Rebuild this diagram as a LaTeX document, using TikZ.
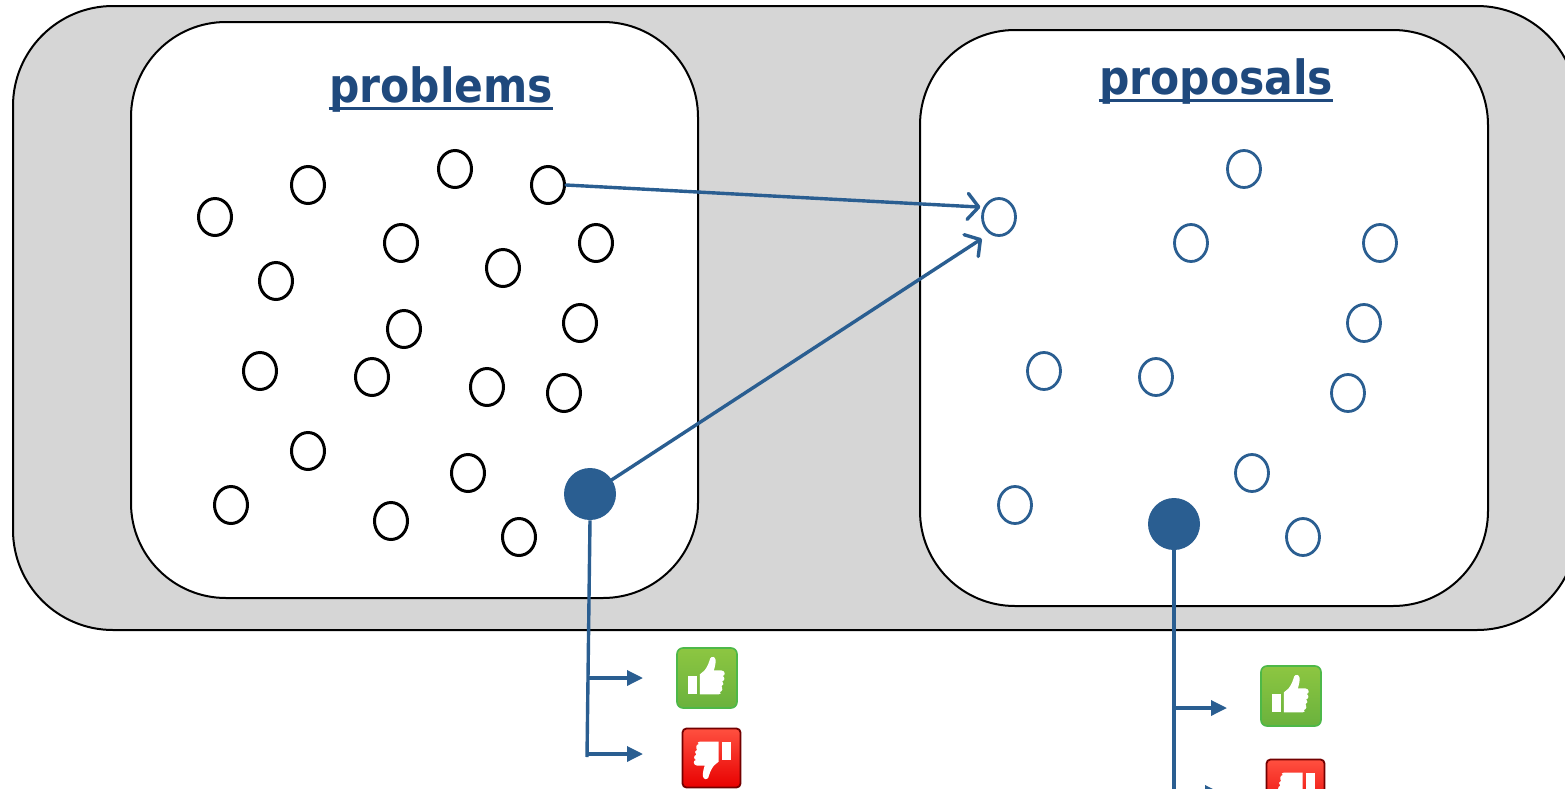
\documentclass[tikz,border=0pt]{standalone}
\usepackage{fontspec}
\setmainfont{DejaVu Sans}
\usetikzlibrary{arrows.meta,shapes.geometric,calc}
\definecolor{titleblue}{HTML}{1F497D}
\definecolor{linkblue}{HTML}{2A5E91}
\definecolor{boxgray}{HTML}{D6D6D6}
\definecolor{okgreenA}{HTML}{8DC641}
\definecolor{okgreenB}{HTML}{6AB23D}
\definecolor{okborder}{HTML}{4DB848}
\definecolor{noredA}{HTML}{FF5040}
\definecolor{noredB}{HTML}{E80000}
\begin{document}
\begin{tikzpicture}[x=0.5pt,y=-0.5pt,
  panel/.style={draw=black, line width=1pt, rounded corners=47.5pt, fill=white},
  prob/.style={ellipse, draw=black, line width=1.5pt, minimum width=16.5pt, minimum height=18.5pt, inner sep=0pt},
  prop/.style={prob, draw=linkblue, line width=1.4pt},
  bigdot/.style={circle, fill=linkblue, minimum size=26pt, inner sep=0pt},
  conn/.style={draw=linkblue, line width=1.7pt, line cap=round},
  openarrow/.style={conn, -{Straight Barb[length=5.5pt,width=13pt,round]}},
  branch/.style={draw=linkblue, line width=1.7pt, -{Triangle[length=8pt,width=7.5pt]}},
  title/.style={anchor=base, inner sep=0pt, text=titleblue, font=\fontsize{23.6pt}{28pt}\selectfont\bfseries},
  thumbup/.style={rectangle, rounded corners=3pt, draw=okborder, line width=0.8pt, top color=okgreenA, bottom color=okgreenB, minimum width=30pt, minimum height=30pt, inner sep=0pt},
  thumbdown/.style={rectangle, rounded corners=2pt, draw=red!45!black, line width=0.9pt, top color=noredA, bottom color=noredB, minimum width=29pt, minimum height=29.5pt, inner sep=0pt},
  thumbpath/.pic={
    \begin{scope}[x=1pt,y=1pt]
      \fill[white] (-9.5,-8.0) rectangle (-5.2,0.8);
      \fill[white] (-3.6,-8.2) -- (-3.6,1.8) -- (-1.2,3.8)
        .. controls (0.5,6) and (1.0,8) .. (1.6,9.8)
        .. controls (2.2,11) and (4.2,10.8) .. (4.3,9)
        .. controls (4.4,7) and (3.8,5) .. (3.4,3.8)
        -- (7.2,3.8)
        .. controls (9.3,3.6) and (9.3,1.2) .. (7.8,1.0)
        .. controls (9.0,0.6) and (9.0,-1.4) .. (7.6,-1.6)
        .. controls (8.6,-2.2) and (8.4,-4.0) .. (7.2,-4.2)
        .. controls (8.0,-4.8) and (7.8,-6.8) .. (6.4,-7.0)
        .. controls (7.2,-7.4) and (7.0,-8.2) .. (5.8,-8.2)
        -- cycle;
    \end{scope}
  }
]
\useasboundingbox (0,0) rectangle (1565,788);
\clip (0,0) rectangle (1565,788);
% outer gray frame
\draw[fill=boxgray, line width=1pt, rounded corners=50pt] (13,6) rectangle (1577,630);
% panels
\draw[panel] (131,22) rectangle (698,598);
\draw[panel] (920,30) rectangle (1488,606);
% titles
\node[title] (t1) at (441,102) {\scalebox{0.9}[1]{problems}};
\draw[titleblue, line width=1.5pt] ([yshift=-3pt]t1.base west) -- ([yshift=-3pt]t1.base east);
\node[title] (t2) at (1216,94) {\scalebox{0.9}[1]{proposals}};
\draw[titleblue, line width=1.5pt] ([yshift=-3pt]t2.base west) -- ([yshift=-3pt]t2.base east);
% problem circles
\node[prob] (p1) at (215,217) {};
\node[prob] (p2) at (308,185) {};
\node[prob] (p3) at (455,169) {};
\node[prob] (p4) at (548,185) {};
\node[prob] (p5) at (401,243) {};
\node[prob] (p6) at (596,243) {};
\node[prob] (p7) at (276,281) {};
\node[prob] (p8) at (503,268) {};
\node[prob] (p9) at (404,329) {};
\node[prob] (p10) at (580,323) {};
\node[prob] (p11) at (260,371) {};
\node[prob] (p12) at (372,377) {};
\node[prob] (p13) at (487,387) {};
\node[prob] (p14) at (564,393) {};
\node[prob] (p15) at (308,451) {};
\node[prob] (p16) at (468,473) {};
\node[prob] (p17) at (231,505) {};
\node[prob] (p18) at (391,521) {};
\node[prob] (p19) at (519,537) {};
\node[bigdot] (d1) at (590,494) {};
% proposal circles
\node[prop] (q1) at (999,217) {};
\node[prop] (q2) at (1244,169) {};
\node[prop] (q3) at (1191,243) {};
\node[prop] (q4) at (1380,243) {};
\node[prop] (q5) at (1364,323) {};
\node[prop] (q6) at (1044,371) {};
\node[prop] (q7) at (1156,377) {};
\node[prop] (q8) at (1348,393) {};
\node[prop] (q9) at (1252,473) {};
\node[prop] (q10) at (1015,505) {};
\node[prop] (q11) at (1303,537) {};
\node[bigdot] (d2) at (1174,524) {};
% links between panels
\draw[openarrow, shorten >=1.5pt] (p4.east) -- (q1.148);
\draw[openarrow, shorten >=4.5pt] (d1) -- (q1.240);
% icons
\node[thumbup] (up1) at (707,678) {};
\pic at (up1.center) {thumbpath};
\node[thumbdown] (dn1) at (711.5,758) {};
\pic[rotate=180] at (dn1.center) {thumbpath};
\node[thumbup] (up2) at (1291,696) {};
\pic at (up2.center) {thumbpath};
\node[thumbdown] (dn2) at (1295.5,789) {};
\pic[rotate=180] at (dn2.center) {thumbpath};
% left evaluation branches
\coordinate (l0) at (587,757);
\coordinate (l1) at (589,678);
\coordinate (l2) at (587,754);
\coordinate (la1) at (643,678);
\coordinate (la2) at (643,754);
\draw[conn, line cap=butt] (d1.south) -- (l0);
\draw[branch] (l1) -- (la1);
\draw[branch] (l2) -- (la2);
% right evaluation branches
\coordinate (r0) at (1174,800);
\coordinate (r1) at (1174,708);
\coordinate (r2) at (1174,793);
\coordinate (ra1) at (1227,708);
\coordinate (ra2) at (1221,793);
\draw[conn, line cap=butt] (d2.south) -- (r0);
\draw[branch] (r1) -- (ra1);
\draw[branch] (r2) -- (ra2);
\end{tikzpicture}
\end{document}
